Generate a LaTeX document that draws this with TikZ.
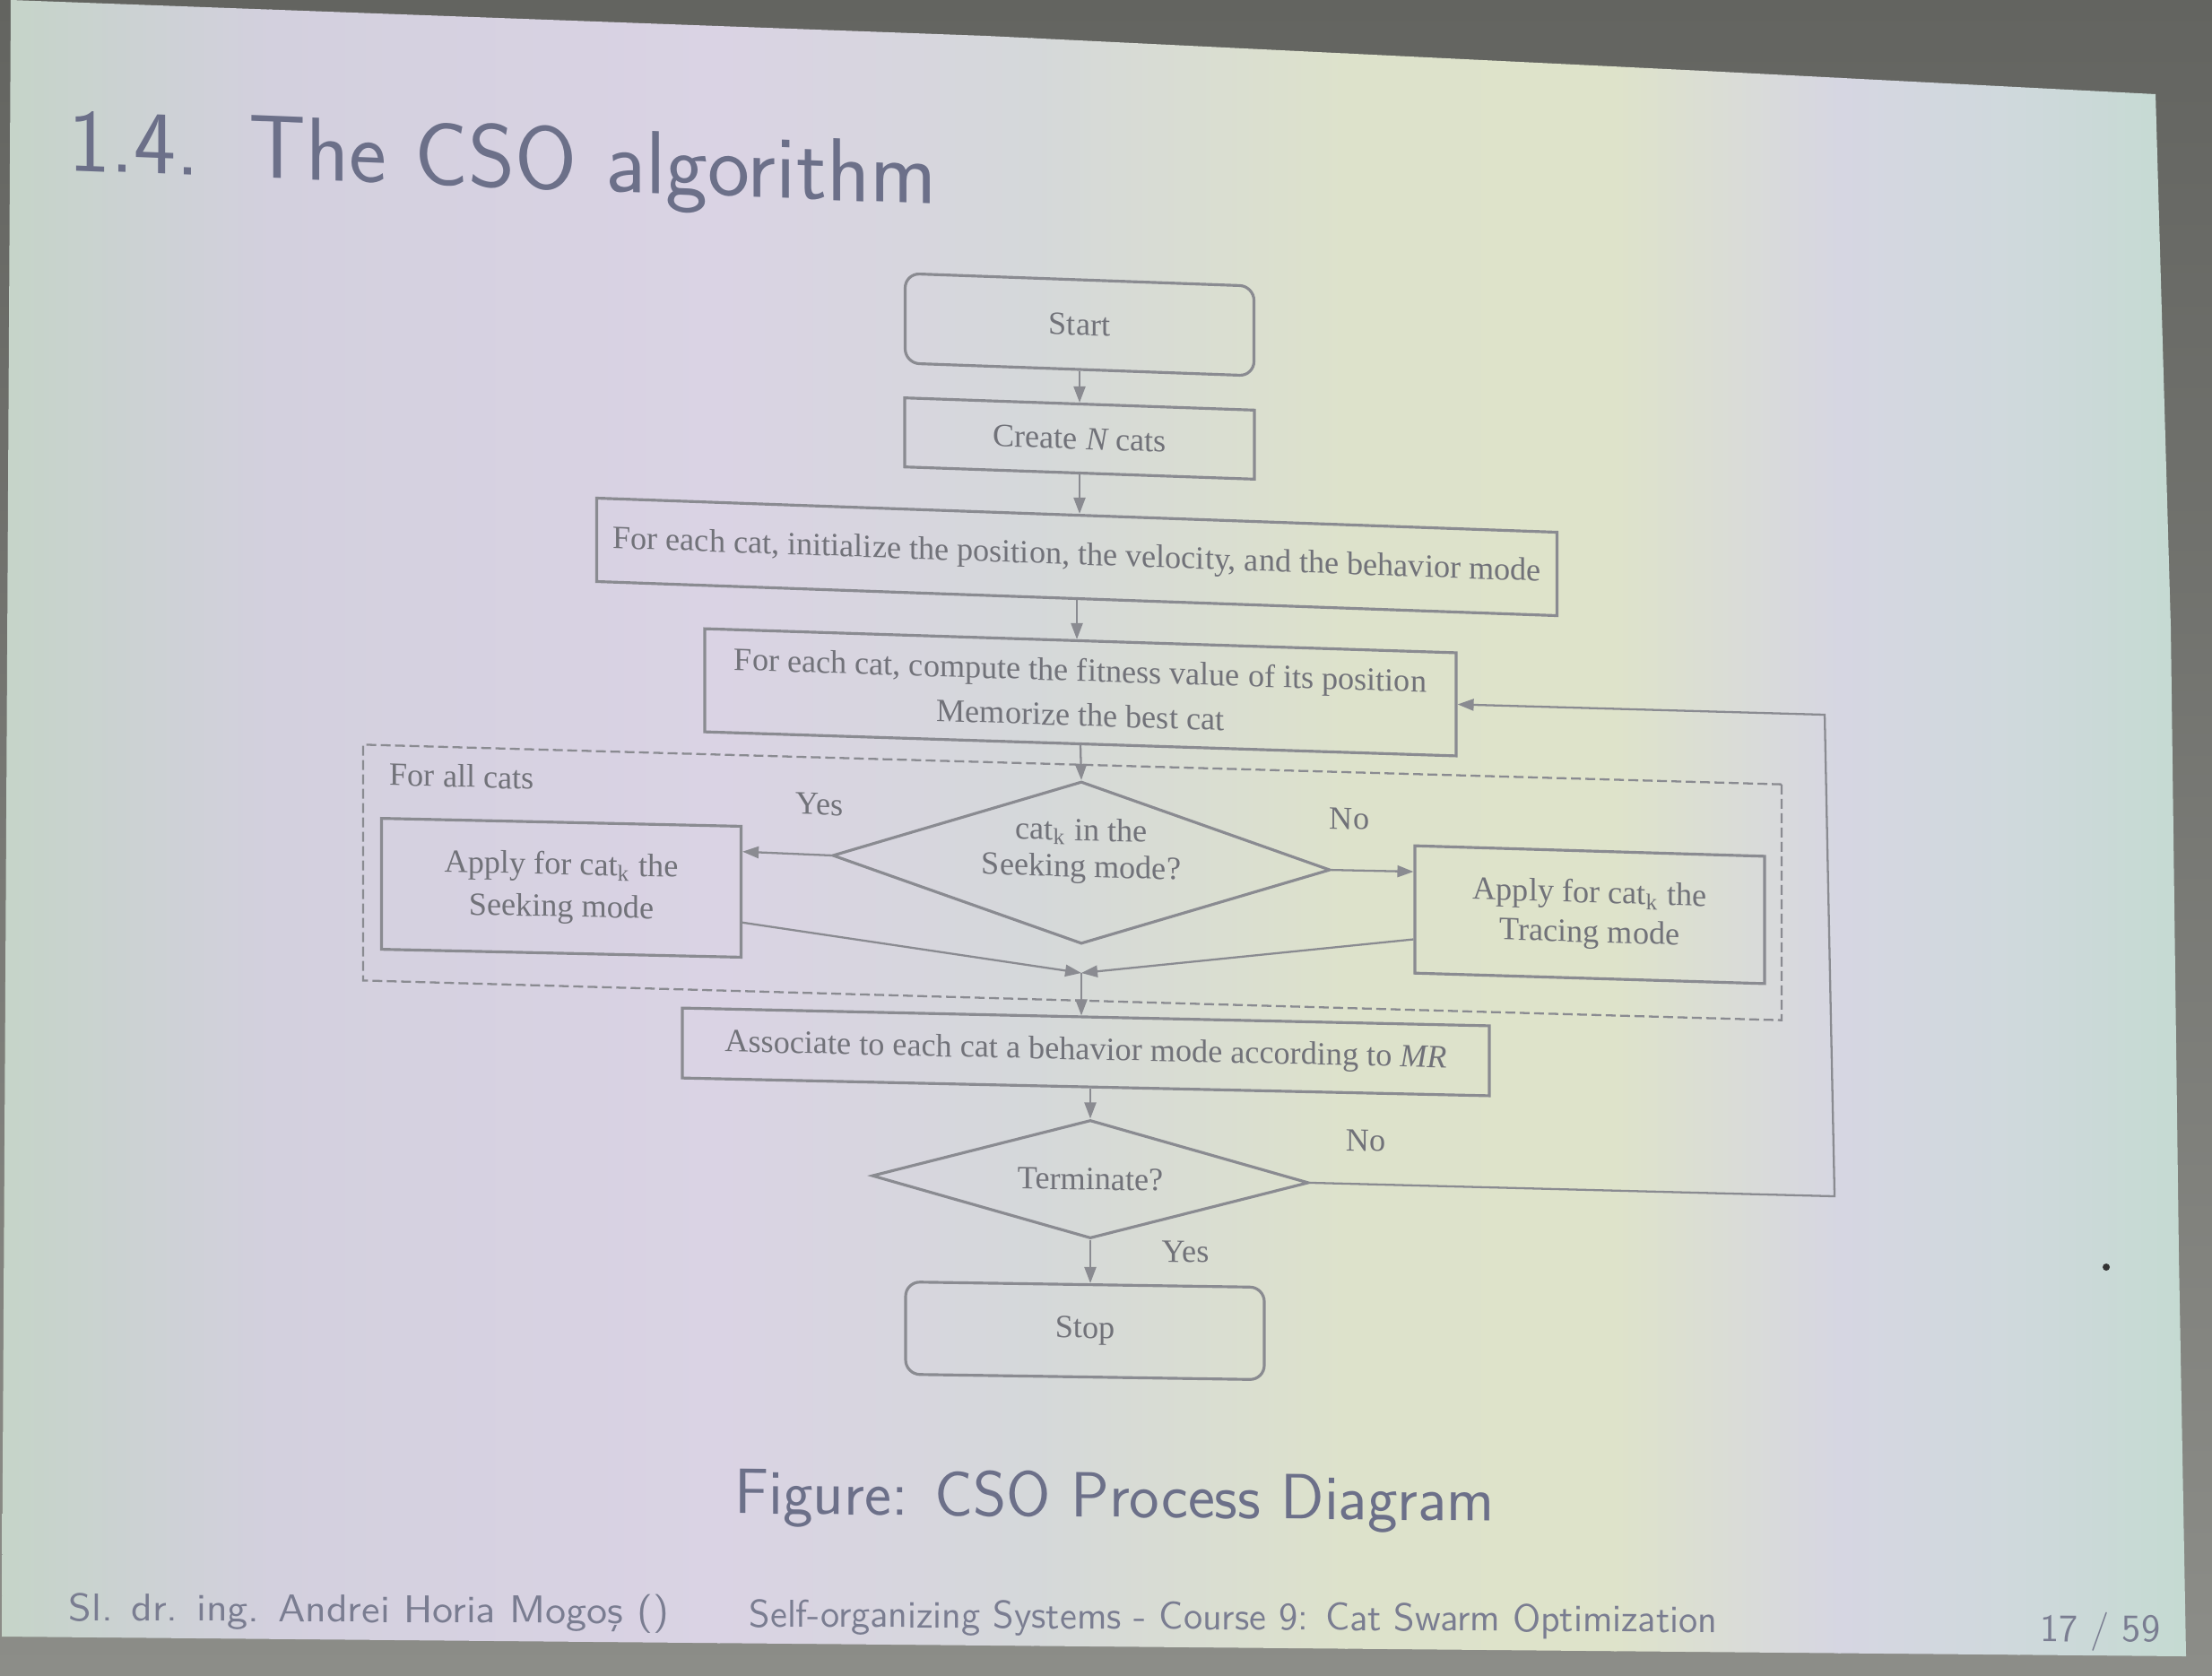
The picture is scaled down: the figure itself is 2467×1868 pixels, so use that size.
\documentclass[tikz,border=0pt]{standalone}
\usepackage{fontspec}
\newfontfamily\tnr{Liberation Serif}
\usetikzlibrary{shapes.geometric,arrows.meta,calc}
\definecolor{lc}{HTML}{8A8B91}
\definecolor{tc}{HTML}{717279}
\definecolor{ttl}{HTML}{6C7089}
\definecolor{ftc}{HTML}{7A7D91}
\definecolor{gtop}{HTML}{636460}
\definecolor{gbot}{HTML}{8C8D88}
\definecolor{sa}{HTML}{C5D4C8}
\definecolor{sb}{HTML}{D3D0DE}
\definecolor{sc}{HTML}{DAD3E4}
\definecolor{sd}{HTML}{D5D8DA}
\definecolor{se}{HTML}{DDE2CB}
\definecolor{sf}{HTML}{DEE3CA}
\definecolor{sg}{HTML}{D6D6E2}
\definecolor{sh}{HTML}{CFD9DC}
\definecolor{si}{HTML}{C3DAD0}
\newcommand\dgfont{\tnr\fontsize{10.3}{12.8}\selectfont}
\begin{document}
\begin{tikzpicture}[x=0.1mm,y=-0.1mm,
  box/.style={draw=lc, line width=0.9pt, text=tc, font=\dgfont, align=center, inner sep=0pt},
  rbox/.style={box, rounded corners=1.6mm},
  dec/.style={box, diamond, aspect=3.07},
  lab/.style={text=tc, font=\dgfont, inner sep=0pt},
  arr/.style={draw=lc, line width=0.65pt, -{Triangle[length=1.8mm,width=1.3mm]}},
  dashbox/.style={draw=lc, line width=0.65pt, dash pattern=on 1.1mm off 0.5mm, inner sep=0pt},
  slidetext/.style={text=ttl, inner sep=0pt},
  foot/.style={text=ftc, inner sep=0pt, font=\sffamily\fontsize{12.3}{14}\selectfont}
]
\useasboundingbox (0,0) rectangle (2467,1868);
\shade[top color=gtop, bottom color=gbot] (0,0) rectangle (2467,1868);
\begin{scope}
\clip (12,0) -- (1100,40) -- (1900,79) -- (2404,105) -- (2421,700) -- (2430,1400) -- (2438,1847) -- (2,1825) -- cycle;
\foreach \xa/\xb/\ca/\cb in {0/300/sa/sb, 300/800/sb/sc, 800/1150/sc/sd, 1150/1500/sd/se, 1500/1800/se/sf, 1800/2050/sf/sg, 2050/2250/sg/sh, 2250/2467/sh/si}
  \shade[left color=\ca, right color=\cb] (\xa,0) rectangle (\xb+3,1868);
\end{scope}

% title, caption, footer
\node[slidetext, anchor=base west, yslant=-0.039, font=\sffamily\fontsize{28.4}{32}\selectfont] (title) at (76,190) {1.4.\hspace{0.55em}The CSO algorithm};
\node[slidetext, anchor=base, yslant=-0.01, font=\sffamily\fontsize{20.3}{23}\selectfont] (caption) at (1243,1692) {Figure: CSO Process Diagram};
\node[foot, anchor=base west, yslant=-0.006, xscale=1.09] (author) at (76,1807) {Sl. dr. ing. Andrei Horia Mogoş ()};
\node[foot, anchor=base west, yslant=-0.006] (course) at (835,1814) {Self-organizing Systems - Course 9: Cat Swarm Optimization};
\node[foot, anchor=base east, yslant=-0.006] (page) at (2410,1831) {17 / 59};
\fill[black!80] (2349,1413) circle (4);

% flowchart
\node[dashbox, minimum width=158.2mm, minimum height=26.3mm, yslant=-0.028] (loop) at (1196,984) {};
\node[lab, anchor=west, yslant=-0.03] (forall) at (434,863) {For all cats};

\node[rbox, minimum width=38.9mm, minimum height=10mm, yslant=-0.036] (start) at (1204,362) {Start};
\node[box, minimum width=39mm, minimum height=7.7mm, yslant=-0.035] (create) at (1204,489) {Create {\itshape N} cats};
\node[box, minimum width=107.1mm, minimum height=9.3mm, yslant=-0.0355] (init) at (1201,621) {For each cat, initialize the position, the velocity, and the behavior mode};
\node[box, minimum width=83.8mm, minimum height=11.5mm, yslant=-0.032, font=\tnr\fontsize{10.3}{14.2}\selectfont] (fit) at (1205,772) {For each cat, compute the fitness value of its position\\Memorize the best cat};
\node[dec, minimum width=55.5mm, minimum height=18.1mm, yslant=-0.029, font=\tnr\fontsize{10.3}{11.6}\selectfont] (dia) at (1206,962) {cat\textsubscript{k} in the\\Seeking mode?\\[-2pt]\mbox{}};
\node[box, minimum width=40.1mm, minimum height=14.6mm, yslant=-0.022, font=\tnr\fontsize{10.3}{13.4}\selectfont] (seek) at (626,990) {Apply for cat\textsubscript{k} the\\Seeking mode};
\node[box, minimum width=39mm, minimum height=14.2mm, yslant=-0.03, font=\tnr\fontsize{10.3}{12.6}\selectfont] (trace) at (1773,1020) {Apply for cat\textsubscript{k} the\\Tracing mode};
\node[box, minimum width=90mm, minimum height=7.8mm, yslant=-0.022] (assoc) at (1211,1173) {Associate to each cat a behavior mode according to {\itshape MR}};
\node[dec, minimum width=48.7mm, minimum height=13.2mm, yslant=-0.016] (term) at (1216,1315) {Terminate?};
\node[rbox, minimum width=40mm, minimum height=10.3mm, yslant=-0.015] (stop) at (1210,1484) {Stop};

\node[lab, yslant=-0.03] (yes1) at (914,897) {Yes};
\node[lab, yslant=-0.03] (no1) at (1505,913) {No};
\node[lab, yslant=-0.02] (no2) at (1523,1272) {No};
\node[lab, yslant=-0.015] (yes2) at (1322,1396) {Yes};

\coordinate (m) at (1206,1085);
\coordinate (fbA) at (2046,1334);
\coordinate (fbB) at (2035,797);

\draw[arr] (start.south) -- (start.south |- create.north);
\draw[arr] (create.south) -- (create.south |- init.north);
\draw[arr] (init.south) -- (init.south |- fit.north);
\draw[arr] (fit.south) -- (dia.north);
\draw[arr] (dia.west) -- ($(seek.north east)!0.2!(seek.south east)$);
\draw[arr] (dia.east) -- ($(trace.north west)!0.21!(trace.south west)$);
\draw[arr] ($(seek.north east)!0.73!(seek.south east)$) -- (m);
\draw[arr] ($(trace.north west)!0.73!(trace.south west)$) -- (m);
\draw[arr] (m) -- (m |- assoc.north);
\draw[arr] (term.north |- assoc.south) -- (term.north);
\draw[arr] (term.south) -- (term.south |- stop.north);
\draw[arr] (term.east) -- (fbA) -- (fbB) -- (fit.east);
\end{tikzpicture}
\end{document}
